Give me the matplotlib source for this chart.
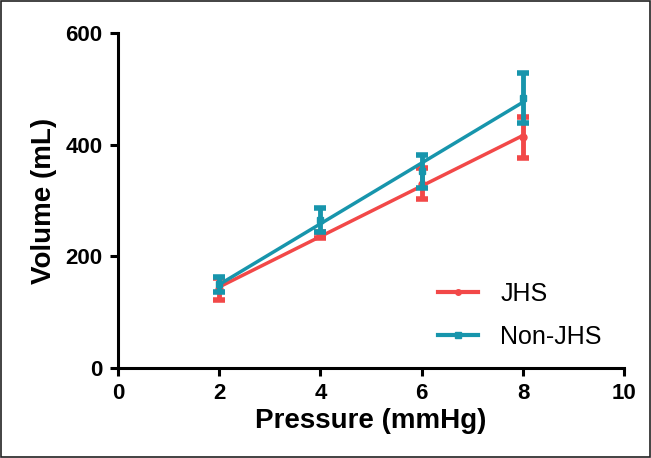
import numpy as np
import matplotlib.pyplot as plt

plt.rcParams['font.family'] = ['Liberation Sans', 'DejaVu Sans']

pressure = [2, 4, 6, 8]
jhs_mean = [142, 238, 330, 413]
jhs_err = [20, 5, 28, 37]
non_mean = [150, 265, 352, 484]
non_err = [13, 22, 30, 45]

red = '#F24848'
teal = '#1795AC'

fig = plt.figure(figsize=(6.51, 4.58), dpi=100)
ax = fig.add_axes([0.181, 0.1965, 0.778, 0.7315])

for mean, err, col, mk, lab in [(jhs_mean, jhs_err, red, 'o', 'JHS'),
                                (non_mean, non_err, teal, 's', 'Non-JHS')]:
    ax.errorbar(pressure, mean, yerr=err, fmt='none', ecolor=col,
                elinewidth=3.5, capsize=4, capthick=4)
    ax.plot(pressure, mean, mk, color=col, ms=5)
    # straight fitted line through the points
    k, b = np.polyfit(pressure, mean, 1)
    xs = np.array([pressure[0], pressure[-1]])
    ax.plot(xs, k * xs + b, color=col, lw=2.5)
    ax.plot([], [], '-' + mk, color=col, lw=3, ms=4, label=lab)

ax.set_xlim(0, 10)
ax.set_ylim(0, 600)
ax.set_xticks([0, 2, 4, 6, 8, 10])
ax.set_yticks([0, 200, 400, 600])
ax.spines['top'].set_visible(False)
ax.spines['right'].set_visible(False)
for s in ['left', 'bottom']:
    ax.spines[s].set_linewidth(2.2)
ax.tick_params(width=2.2, length=6, labelsize=16, pad=5)
for t in ax.get_xticklabels() + ax.get_yticklabels():
    t.set_fontweight('bold')
ax.set_xlabel('Pressure (mmHg)', fontsize=20, fontweight='bold', labelpad=3)
ax.set_ylabel('Volume (mL)', fontsize=20, fontweight='bold', labelpad=6)

ax.legend(loc='lower right', bbox_to_anchor=(1.0, -0.01), frameon=False,
          fontsize=18, handlelength=1.6, labelspacing=0.75, handletextpad=0.9)

fig.patches.append(plt.Rectangle((0.002, 0.002), 0.996, 0.996, transform=fig.transFigure,
                                 fill=False, edgecolor='#222222', lw=1.2))

fig.savefig('out.png', dpi=100)
